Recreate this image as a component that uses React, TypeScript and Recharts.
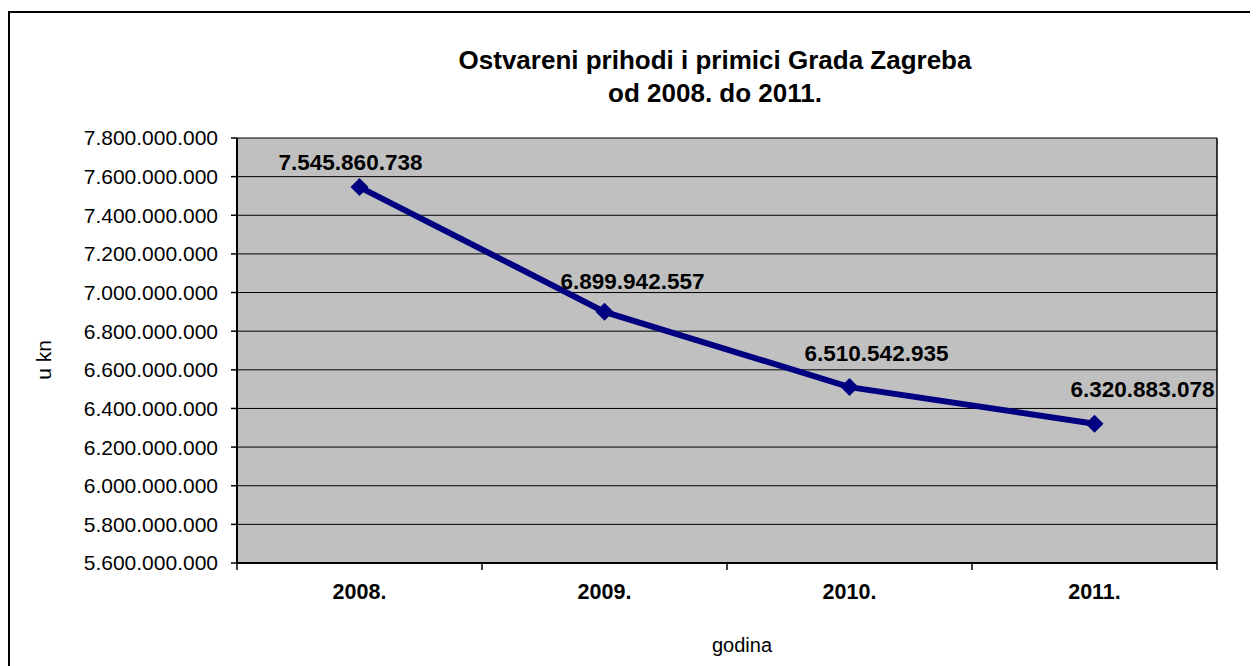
import { LineChart, Line, XAxis, YAxis, CartesianGrid, ReferenceLine, LabelList } from "recharts";

const CATEGORIES = ["2008.", "2009.", "2010.", "2011."];
const VALUES = [7545860738, 6899942557, 6510542935, 6320883078];
const Y_TICKS = [
  5600000000, 5800000000, 6000000000, 6200000000, 6400000000, 6600000000,
  6800000000, 7000000000, 7200000000, 7400000000, 7600000000, 7800000000,
];

// label placement relative to each point (dx, dy)
const LABEL_OFFSETS = [[-9, -25], [28, -30], [27, -34], [48, -34]];

const FONT = "'Liberation Sans', Arial, sans-serif";
const LINE_COLOR = "#000080";
const PLOT_BG = "#C0C0C0";

const fmt = (v: number) => String(v).replace(/\B(?=(\d{3})+(?!\d))/g, ".");

const data = CATEGORIES.map((name, i) => ({ name, pos: i + 0.5, value: VALUES[i] }));
const X_TICKS = CATEGORIES.flatMap((_, i) => [i, i + 0.5]).concat(CATEGORIES.length);

const XTick = (props: any) => {
  const { x, y, payload } = props;
  const v = payload.value as number;
  if (Number.isInteger(v)) {
    return <line x1={x} x2={x} y1={y} y2={y + 7} stroke="#000" strokeWidth={1.5} />;
  }
  return (
    <text x={x} y={y + 29} textAnchor="middle" dominantBaseline="central"
      fontFamily={FONT} fontSize={21.5} fontWeight="bold" fill="#000">
      {CATEGORIES[Math.floor(v)]}
    </text>
  );
};

const Diamond = (props: any) => {
  const { cx, cy } = props;
  if (cx == null || cy == null) return null;
  const r = 9;
  return <polygon points={`${cx},${cy - r} ${cx + r},${cy} ${cx},${cy + r} ${cx - r},${cy}`} fill={LINE_COLOR} />;
};

const DataLabel = (props: any) => {
  const { x, y, value, index } = props;
  const [dx, dy] = LABEL_OFFSETS[index] || [0, -25];
  return (
    <text x={x + dx} y={y + dy} textAnchor="middle" dominantBaseline="central"
      fontFamily={FONT} fontSize={22.5} fontWeight="bold" fill="#000">
      {fmt(value)}
    </text>
  );
};

const App = () => {
  return (
    <div style={{ position: "relative", width: 1250, height: 658, overflow: "hidden", background: "#fff", fontFamily: FONT }}>
      <div style={{ position: "absolute", left: 0, top: 3, width: 1400, height: 800, border: "2px solid #000" }} />
      <div style={{
        position: "absolute", left: 707, top: 35.5, transform: "translateX(-50%)",
        whiteSpace: "nowrap", textAlign: "center", fontSize: 26, lineHeight: "33px", fontWeight: "bold",
      }}>
        Ostvareni prihodi i primici Grada Zagreba<br />od 2008. do 2011.
      </div>
      <div style={{ position: "absolute", left: 0, top: 0 }}>
        <LineChart width={1250} height={658} data={data} margin={{ top: 130, right: 41, bottom: 43, left: 0 }}>
          <CartesianGrid vertical={false} stroke="#000" fill={PLOT_BG} fillOpacity={1} />
          <XAxis
            type="number"
            dataKey="pos"
            domain={[0, CATEGORIES.length]}
            ticks={X_TICKS}
            interval={0}
            allowDataOverflow
            tickSize={0}
            tickMargin={0}
            tickLine={false}
            axisLine={{ stroke: "#000", strokeWidth: 2 }}
            tick={(p: any) => <XTick {...p} />}
            height={60}
          />
          <YAxis
            domain={[5600000000, 7800000000]}
            ticks={Y_TICKS}
            interval={0}
            allowDataOverflow
            width={229}
            tickFormatter={fmt}
            tick={{ fill: "#000", fontSize: 21, fontFamily: FONT }}
            tickLine={{ stroke: "#000", strokeWidth: 1.5 }}
            tickSize={6}
            tickMargin={13}
            axisLine={{ stroke: "#000", strokeWidth: 2 }}
          />
          <ReferenceLine x={CATEGORIES.length} stroke="#000" strokeWidth={1.5} />
          <Line
            type="linear"
            dataKey="value"
            stroke={LINE_COLOR}
            strokeWidth={6}
            dot={<Diamond />}
            activeDot={false}
            isAnimationActive={false}
          >
            <LabelList dataKey="value" content={<DataLabel />} />
          </Line>
        </LineChart>
      </div>
      <div style={{
        position: "absolute", left: 36, top: 352, transform: "translate(-50%, -50%) rotate(-90deg)",
        fontSize: 21, whiteSpace: "nowrap",
      }}>
        u kn
      </div>
      <div style={{
        position: "absolute", left: 734, top: 637, transform: "translate(-50%, -50%)",
        fontSize: 20, whiteSpace: "nowrap",
      }}>
        godina
      </div>
    </div>
  );
};

export default App;
